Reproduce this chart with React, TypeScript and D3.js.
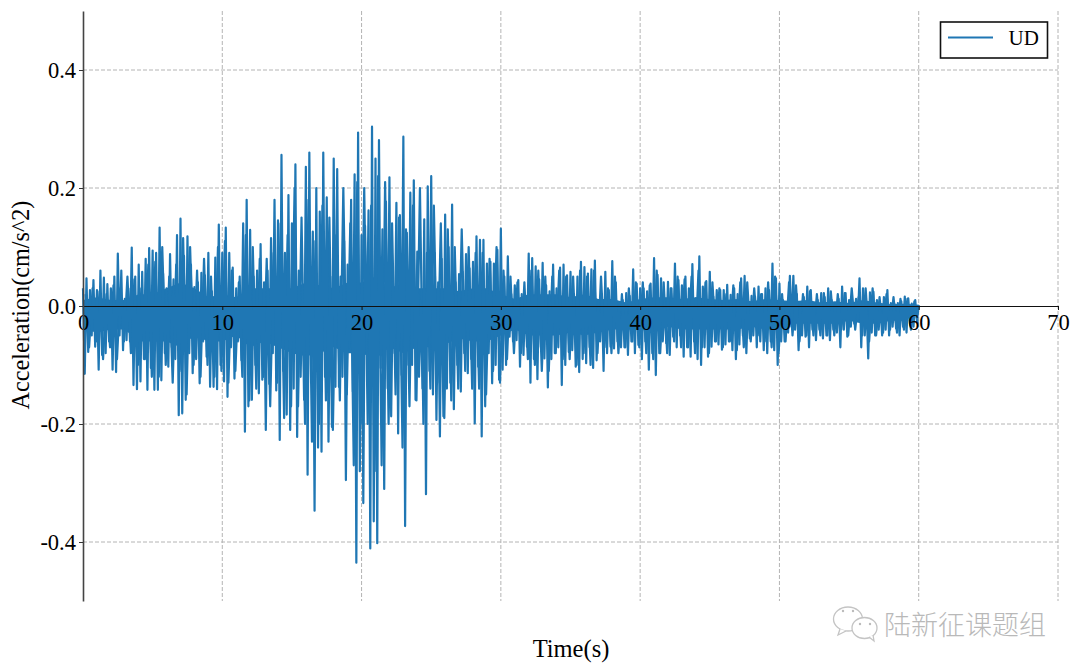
import React, { useEffect, useRef } from "react";
import * as d3 from "d3";

// peak readings, one per 0.25 s slot, 0 to 60 s
const upperPeaks = [
  0.03, 0.047, 0.027, 0.044, 0.027, 0.06, 0.048, 0.037, 0.03, 0.05, 0.089, 0.06, 0.012, 0.03, 0.099, 0.05, 0.07, 0.058, 0.08, 0.098,
  0.094, 0.09, 0.133, 0.055, 0.03, 0.088, 0.045, 0.12, 0.148, 0.085, 0.118, 0.07, 0.032, 0.04, 0.056, 0.052, 0.09, 0.025, 0.082, 0.138,
  0.09, 0.133, 0.09, 0.065, 0.03, 0.05, 0.14, 0.18, 0.129, 0.05, 0.06, 0.105, 0.04, 0.06, 0.115, 0.18, 0.145, 0.256, 0.09, 0.188,
  0.14, 0.24, 0.06, 0.03, 0.236, 0.26, 0.126, 0.2, 0.16, 0.26, 0.184, 0.05, 0.25, 0.232, 0.05, 0.11, 0.07, 0.18, 0.223, 0.294,
  0.12, 0.136, 0.162, 0.304, 0.25, 0.281, 0.13, 0.177, 0.218, 0.04, 0.175, 0.154, 0.287, 0.124, 0.192, 0.213, 0.092, 0.01, 0.147, 0.203,
  0.22, 0.09, 0.04, 0.08, 0.155, 0.1, 0.172, 0.04, 0.054, 0.058, 0.088, 0.064, 0.075, 0.118, 0.112, 0.112, 0.072, 0.075, 0.072, 0.095,
  0.131, 0.05, 0.084, 0.02, 0.035, 0.044, 0.02, 0.018, 0.089, 0.081, 0.067, 0.045, 0.073, 0.035, 0.025, 0.07, 0.03, 0.065, 0.07, 0.052,
  0.058, 0.02, 0.05, 0.075, 0.066, 0.055, 0.062, 0.077, 0.01, 0.02, 0.058, 0.027, 0.076, 0.04, 0.002, 0.01, 0.022, 0.017, 0.062, 0.038,
  0.03, 0.03, 0.025, 0.038, 0.081, 0.053, 0.047, 0.01, 0.041, 0.03, 0.072, 0.044, 0.035, 0.05, 0.03, 0.071, 0.013, 0.084, 0.033, 0.042,
  0.058, 0.016, 0.027, 0.027, 0.027, 0.036, 0.019, 0.03, 0.02, 0.047, 0.051, 0.005, 0.017, 0.016, 0.033, 0.02, 0.03, 0.027, 0.072, 0.047,
  0.038, 0.01, 0.005, 0.051, 0.051, 0.02, 0.002, 0.015, 0.033, 0.027, 0.002, 0.01, 0.022, 0.015, 0.03, 0.01, 0.002, 0.012, 0.033, 0.022,
  0.01, 0.003, 0.012, 0.047, 0.03, 0.005, 0.023, 0.024, 0.01, 0.002, 0.015, 0.027, 0.005, 0.004, 0.005, 0.008, 0.016, 0.013, 0.004, 0.01,
];

const lowerPeaks = [
  -0.115, -0.078, -0.05, -0.069, -0.108, -0.083, -0.08, -0.06, -0.108, -0.112, -0.05, -0.075, -0.058, -0.06, -0.134, -0.141, -0.128, -0.09, -0.142, -0.105,
  -0.142, -0.142, -0.126, -0.08, -0.103, -0.07, -0.09, -0.185, -0.182, -0.159, -0.08, -0.114, -0.09, -0.131, -0.06, -0.086, -0.137, -0.137, -0.141, -0.1,
  -0.128, -0.154, -0.07, -0.123, -0.06, -0.092, -0.213, -0.17, -0.159, -0.1, -0.148, -0.125, -0.21, -0.132, -0.08, -0.143, -0.227, -0.11, -0.184, -0.21,
  -0.14, -0.222, -0.12, -0.159, -0.286, -0.13, -0.347, -0.24, -0.247, -0.12, -0.23, -0.205, -0.137, -0.137, -0.12, -0.295, -0.07, -0.145, -0.435, -0.28,
  -0.334, -0.064, -0.411, -0.365, -0.402, -0.105, -0.31, -0.14, -0.187, -0.08, -0.216, -0.117, -0.373, -0.1, -0.1, -0.159, -0.12, -0.14, -0.319, -0.11,
  -0.15, -0.193, -0.221, -0.187, -0.14, -0.13, -0.175, -0.1, -0.145, -0.08, -0.114, -0.09, -0.199, -0.103, -0.221, -0.17, -0.08, -0.131, -0.1, -0.125,
  -0.108, -0.1, -0.052, -0.06, -0.058, -0.103, -0.083, -0.069, -0.13, -0.09, -0.124, -0.07, -0.089, -0.138, -0.09, -0.08, -0.07, -0.134, -0.1, -0.078,
  -0.075, -0.103, -0.112, -0.09, -0.097, -0.07, -0.105, -0.092, -0.06, -0.11, -0.08, -0.069, -0.072, -0.06, -0.07, -0.07, -0.083, -0.06, -0.08, -0.066,
  -0.09, -0.06, -0.108, -0.08, -0.117, -0.08, -0.06, -0.063, -0.083, -0.052, -0.07, -0.05, -0.086, -0.07, -0.086, -0.06, -0.09, -0.1, -0.07, -0.086,
  -0.069, -0.06, -0.065, -0.074, -0.065, -0.06, -0.075, -0.09, -0.065, -0.05, -0.08, -0.055, -0.05, -0.07, -0.06, -0.075, -0.08, -0.06, -0.075, -0.1,
  -0.06, -0.06, -0.045, -0.035, -0.04, -0.075, -0.05, -0.052, -0.07, -0.04, -0.058, -0.04, -0.055, -0.05, -0.058, -0.04, -0.045, -0.07, -0.04, -0.052,
  -0.035, -0.03, -0.025, -0.07, -0.05, -0.089, -0.045, -0.05, -0.04, -0.05, -0.04, -0.05, -0.035, -0.038, -0.05, -0.035, -0.045, -0.03, -0.035, -0.026,
];

// smaller swings between the main peaks, one pair per 0.5 s
const midUpper = [
  0.02, 0.03, 0.025, 0.02, 0.035, 0.03, 0.05, 0.045, 0.03, 0.07, 0.075, 0.1, 0.05, 0.07, 0.115, 0.1, 0.06, 0.08, 0.05, 0.1,
  0.11, 0.06, 0.04, 0.12, 0.1, 0.08, 0.08, 0.09, 0.14, 0.12, 0.2, 0.15, 0.18, 0.11, 0.17, 0.15, 0.12, 0.2, 0.14, 0.21,
  0.2, 0.17, 0.22, 0.21, 0.14, 0.15, 0.13, 0.17, 0.2, 0.09, 0.17, 0.14, 0.13, 0.1, 0.13, 0.1, 0.09, 0.09, 0.08, 0.1,
  0.06, 0.05, 0.04, 0.04, 0.06, 0.06, 0.05, 0.05, 0.06, 0.05, 0.05, 0.06, 0.05, 0.06, 0.05, 0.03, 0.05, 0.02, 0.03, 0.04,
  0.04, 0.035, 0.06, 0.04, 0.03, 0.05, 0.045, 0.05, 0.06, 0.04, 0.04, 0.03, 0.02, 0.035, 0.04, 0.04, 0.03, 0.02, 0.04, 0.05,
  0.02, 0.04, 0.035, 0.02, 0.025, 0.02, 0.022, 0.025, 0.02, 0.022, 0.03, 0.015, 0.03, 0.03, 0.015, 0.02, 0.015, 0.012, 0.012, 0.008,
];
const midLower = [
  -0.07, -0.06, -0.09, -0.07, -0.09, -0.06, -0.08, -0.1, -0.09, -0.12, -0.12, -0.1, -0.13, -0.11, -0.15, -0.1, -0.12, -0.1, -0.12, -0.11,
  -0.13, -0.11, -0.12, -0.16, -0.14, -0.12, -0.17, -0.13, -0.19, -0.17, -0.17, -0.2, -0.23, -0.2, -0.16, -0.21, -0.16, -0.15, -0.27, -0.2,
  -0.2, -0.28, -0.27, -0.2, -0.15, -0.24, -0.17, -0.16, -0.2, -0.14, -0.13, -0.19, -0.16, -0.14, -0.11, -0.14, -0.14, -0.15, -0.11, -0.13,
  -0.09, -0.08, -0.08, -0.09, -0.1, -0.11, -0.11, -0.08, -0.09, -0.09, -0.1, -0.08, -0.1, -0.08, -0.07, -0.08, -0.08, -0.07, -0.06, -0.07,
  -0.08, -0.09, -0.08, -0.08, -0.06, -0.07, -0.07, -0.08, -0.07, -0.08, -0.06, -0.07, -0.06, -0.075, -0.07, -0.06, -0.05, -0.06, -0.07, -0.08,
  -0.06, -0.05, -0.06, -0.05, -0.05, -0.05, -0.05, -0.05, -0.04, -0.05, -0.04, -0.05, -0.06, -0.05, -0.045, -0.04, -0.045, -0.04, -0.04, -0.03,
];

// the part round zero where the trace is too dense to separate, one reading per second
const coreUpper = [
  0.01, 0.015, 0.01, 0.01, 0.02, 0.02, 0.03, 0.04, 0.03, 0.015,
  0.02, 0.015, 0.03, 0.03, 0.03, 0.03, 0.04, 0.035, 0.03, 0.04,
  0.04, 0.05, 0.03, 0.04, 0.03, 0.03, 0.03, 0.025, 0.03, 0.03,
  0.02, 0.012, 0.02, 0.02, 0.02, 0.015, 0.02, 0.012, 0.012, 0.006,
  0.012, 0.015, 0.015, 0.012, 0.015, 0.012, 0.01, 0.012, 0.008, 0.012,
  0.01, 0.008, 0.01, 0.006, 0.008, 0.005, 0.01, 0.006, 0.003, 0.004, 0.002,
];
const coreLower = [
  -0.04, -0.045, -0.04, -0.04, -0.06, -0.06, -0.06, -0.07, -0.05, -0.06,
  -0.06, -0.05, -0.07, -0.06, -0.07, -0.08, -0.085, -0.08, -0.07, -0.08,
  -0.08, -0.09, -0.07, -0.08, -0.07, -0.07, -0.065, -0.055, -0.06, -0.06,
  -0.05, -0.04, -0.05, -0.05, -0.05, -0.045, -0.05, -0.045, -0.04, -0.04,
  -0.04, -0.045, -0.035, -0.04, -0.04, -0.04, -0.04, -0.04, -0.035, -0.04,
  -0.035, -0.03, -0.03, -0.03, -0.03, -0.025, -0.03, -0.03, -0.025, -0.025, -0.01,
];

const xTicks = [0, 10, 20, 30, 40, 50, 60, 70];
const yTicks = [-0.4, -0.2, 0, 0.2, 0.4];
const slotWidth = 0.25;
const midSlotWidth = 0.5;
const lineColor = "#1f77b4";
const serif = "'Liberation Serif', 'Times New Roman', serif";

export default function App() {
  const svgRef = useRef<SVGSVGElement>(null);

  useEffect(() => {
    const svg = d3.select(svgRef.current);
    svg.selectAll("*").remove();

    const x = d3.scaleLinear().domain([0, 70]).range([83, 1058]);
    const y = d3.scaleLinear().domain([-0.5, 0.5]).range([601, 11]);

    // grid first, the trace sits on it
    const grid = svg.append("g").attr("stroke", "#b4b4b4").attr("stroke-dasharray", "4,2");
    grid
      .selectAll("line.v")
      .data(xTicks.slice(1))
      .enter()
      .append("line")
      .attr("x1", (d) => x(d))
      .attr("x2", (d) => x(d))
      .attr("y1", y(0.5))
      .attr("y2", y(-0.5));
    grid
      .selectAll("line.h")
      .data(yTicks.filter((d) => d !== 0))
      .enter()
      .append("line")
      .attr("x1", x(0))
      .attr("x2", x(70))
      .attr("y1", (d) => y(d))
      .attr("y2", (d) => y(d));

    const core = d3
      .area<number>()
      .x((_, i) => x(i))
      .y0((_, i) => y(coreLower[i]))
      .y1((d) => y(d));

    svg.append("path").attr("d", core(coreUpper)).attr("fill", lineColor);

    const line = d3
      .line<[number, number]>()
      .x((d) => x(d[0]))
      .y((d) => y(d[1]));

    // the smaller swings, sitting between the slots of the main peaks
    const midTrace: [number, number][] = [];
    midUpper.forEach((u, i) => {
      midTrace.push([i * midSlotWidth + 0.19, u]);
      midTrace.push([i * midSlotWidth + 0.44, midLower[i]]);
    });

    svg
      .append("path")
      .attr("d", line(midTrace))
      .attr("fill", "none")
      .attr("stroke", lineColor)
      .attr("stroke-width", 2.2)
      .attr("stroke-linejoin", "round");

    // each slot swings from its upper peak to its lower peak
    const trace: [number, number][] = [];
    upperPeaks.forEach((u, i) => {
      trace.push([i * slotWidth, u]);
      trace.push([i * slotWidth + slotWidth / 2, lowerPeaks[i]]);
    });
    trace.push([60, 0.002]);

    svg
      .append("path")
      .attr("d", line(trace))
      .attr("fill", "none")
      .attr("stroke", lineColor)
      .attr("stroke-width", 2.2)
      .attr("stroke-linejoin", "round");

    // spines and tick labels through d3 axes
    const xAxis = svg
      .append("g")
      .attr("transform", `translate(0,${y(0)})`)
      .call(d3.axisBottom(x).tickValues(xTicks).tickFormat(d3.format("d")).tickSize(4).tickSizeOuter(0));
    const yAxis = svg
      .append("g")
      .attr("transform", `translate(${x(0)},0)`)
      .call(d3.axisLeft(y).tickValues(yTicks).tickFormat(d3.format(".1f")).tickSize(4).tickSizeOuter(0));

    xAxis.select(".domain").attr("stroke", "#111").attr("stroke-width", 1.2);
    yAxis.select(".domain").attr("stroke", "#444").attr("stroke-width", 1.6);
    xAxis.selectAll(".tick line").attr("stroke", "#111");
    yAxis.selectAll(".tick line").attr("stroke", "#333");
    xAxis.selectAll("text").attr("font-family", serif).attr("font-size", 22.5).attr("fill", "#000").attr("y", 8);
    yAxis.selectAll("text").attr("font-family", serif).attr("font-size", 22.5).attr("fill", "#000").attr("x", -7);
    // format gives a typographic minus, the picture has a hyphen
    yAxis.selectAll<SVGTextElement, number>("text").text((d) => d.toFixed(1));

    svg
      .append("text")
      .attr("transform", "translate(29,305) rotate(-90)")
      .attr("text-anchor", "middle")
      .attr("font-family", serif)
      .attr("font-size", 24.2)
      .text("Acceleration(cm/s^2)");

    svg
      .append("text")
      .attr("x", 571)
      .attr("y", 657)
      .attr("text-anchor", "middle")
      .attr("font-family", serif)
      .attr("font-size", 24.5)
      .text("Time(s)");

    // legend
    const legend = svg.append("g");
    legend
      .append("rect")
      .attr("x", 940.5)
      .attr("y", 22)
      .attr("width", 107)
      .attr("height", 36)
      .attr("fill", "#fff")
      .attr("stroke", "#111")
      .attr("stroke-width", 1.6);
    legend
      .append("line")
      .attr("x1", 948)
      .attr("x2", 993)
      .attr("y1", 37.5)
      .attr("y2", 37.5)
      .attr("stroke", lineColor)
      .attr("stroke-width", 2.2);
    legend
      .append("text")
      .attr("x", 1008.5)
      .attr("y", 45)
      .attr("font-family", serif)
      .attr("font-size", 21)
      .text("UD");

    // watermark, bottom right
    const mark = svg.append("g").attr("fill", "#fff").attr("stroke", "#c4c4c4").attr("stroke-width", 1.3);
    mark.append("ellipse").attr("cx", 848).attr("cy", 619).attr("rx", 14.5).attr("ry", 12);
    mark.append("path").attr("d", "M840 629 L838 635 L846 631");
    mark.append("ellipse").attr("cx", 864.5).attr("cy", 628).attr("rx", 12.5).attr("ry", 10.5);
    mark.append("path").attr("d", "M869 637 L874 641 L873 635");
    [[843, 611], [853, 611], [860, 624], [870, 624]].forEach(([cx, cy]) => {
      mark.append("circle").attr("cx", cx).attr("cy", cy).attr("r", 1.2).attr("fill", "#bbb").attr("stroke", "none");
    });
    svg
      .append("text")
      .attr("x", 884)
      .attr("y", 635)
      .attr("font-family", "'Noto Sans CJK SC'")
      .attr("font-size", 27)
      .attr("font-weight", 300)
      .attr("fill", "#b9b9b9")
      .text("陆新征课题组");
  }, []);

  return (
    <svg
      ref={svgRef}
      width={1080}
      height={672}
      style={{ position: "absolute", left: 0, top: 0, background: "#fff" }}
    />
  );
}
